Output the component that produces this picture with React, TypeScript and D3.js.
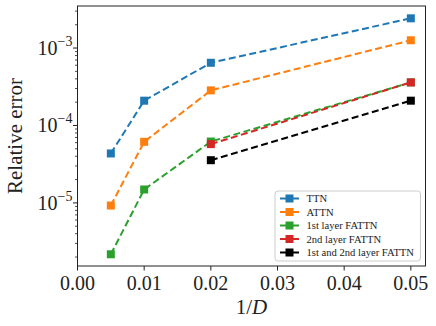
import { useEffect, useRef } from "react";
import * as d3 from "d3";

const xValues = [0.005, 0.01, 0.02, 0.05];
const ttn = [4.35e-5, 2.09e-4, 6.45e-4, 2.42e-3];
const attn = [9.25e-6, 6.15e-5, 2.84e-4, 1.26e-3];
const firstLayer = [2.17e-6, 1.49e-5, 6.2e-5, 3.6e-4];
const secondX = [0.02, 0.05];
const secondLayer = [5.74e-5, 3.6e-4];
const bothLayers = [3.56e-5, 2.09e-4];
const seriesNames = ["TTN", "ATTN", "1st layer FATTN", "2nd layer FATTN", "1st and 2nd layer FATTN"];
const seriesColors = ["#1f77b4", "#ff7f0e", "#2ca02c", "#d62728", "#000000"];
const xTicks = [0, 0.01, 0.02, 0.03, 0.04, 0.05];
const yTickExps = [-5, -4, -3];

const W = 436;
const H = 326;
const FONT = "'Liberation Serif', 'DejaVu Serif', serif";

export default function App() {
  const svgRef = useRef<SVGSVGElement>(null);

  useEffect(() => {
    const svg = d3.select(svgRef.current);
    svg.selectAll("*").remove();

    const margin = { top: 6, right: 10.5, bottom: 60, left: 77.5 };
    const innerW = W - margin.left - margin.right;
    const innerH = H - margin.top - margin.bottom;

    const x = d3.scaleLinear().domain([0, 0.0522]).range([0, innerW]);
    const y = d3.scaleLog().domain([Math.pow(10, -5.815), Math.pow(10, -2.457)]).range([innerH, 0]);

    const g = svg.append("g").attr("transform", `translate(${margin.left},${margin.top})`);

    // series data
    const series = [
      { xs: xValues, ys: ttn },
      { xs: xValues, ys: attn },
      { xs: xValues, ys: firstLayer },
      { xs: secondX, ys: secondLayer },
      { xs: secondX, ys: bothLayers },
    ];

    const line = d3
      .line<[number, number]>()
      .x((d) => x(d[0]))
      .y((d) => y(d[1]));

    const ms = 8;
    series.forEach((s, i) => {
      const pts: [number, number][] = s.xs.map((v, j) => [v, s.ys[j]]);
      g.append("path")
        .attr("d", line(pts))
        .attr("fill", "none")
        .attr("stroke", seriesColors[i])
        .attr("stroke-width", 2)
        .attr("stroke-dasharray", "7,3.5");
      g.selectAll(null)
        .data(pts)
        .enter()
        .append("rect")
        .attr("x", (d) => x(d[0]) - ms / 2)
        .attr("y", (d) => y(d[1]) - ms / 2)
        .attr("width", ms)
        .attr("height", ms)
        .attr("fill", seriesColors[i]);
    });

    // frame
    g.append("rect")
      .attr("width", innerW)
      .attr("height", innerH)
      .attr("fill", "none")
      .attr("stroke", "#222")
      .attr("stroke-width", 1);

    // x ticks
    xTicks.forEach((t) => {
      const px = x(t);
      g.append("line")
        .attr("x1", px)
        .attr("x2", px)
        .attr("y1", innerH)
        .attr("y2", innerH + 4.5)
        .attr("stroke", "#222");
      g.append("text")
        .attr("x", px)
        .attr("y", innerH + 24)
        .attr("text-anchor", "middle")
        .attr("font-family", FONT)
        .attr("font-size", 20)
        .attr("fill", "#222")
        .text(t.toFixed(2));
    });

    // y minor ticks
    const [lo, hi] = y.domain();
    for (let e = -6; e <= -3; e++) {
      for (let m = 2; m <= 9; m++) {
        const v = m * Math.pow(10, e);
        if (v < lo || v > hi) continue;
        g.append("line")
          .attr("x1", 0)
          .attr("x2", -2.5)
          .attr("y1", y(v))
          .attr("y2", y(v))
          .attr("stroke", "#222")
          .attr("stroke-width", 0.8);
      }
    }

    // y major ticks
    yTickExps.forEach((e) => {
      const py = y(Math.pow(10, e));
      g.append("line")
        .attr("x1", 0)
        .attr("x2", -4.5)
        .attr("y1", py)
        .attr("y2", py)
        .attr("stroke", "#222");
      const txt = g
        .append("text")
        .attr("x", -5)
        .attr("y", py + 7)
        .attr("text-anchor", "end")
        .attr("font-family", FONT)
        .attr("font-size", 20)
        .attr("fill", "#222");
      txt.append("tspan").text("10");
      txt.append("tspan").attr("dy", -9).attr("font-size", 14).text(`\u2212${-e}`);
    });

    // axis labels
    svg
      .append("text")
      .attr("transform", `translate(${15},${margin.top + innerH / 2}) rotate(-90)`)
      .attr("text-anchor", "middle")
      .attr("dominant-baseline", "central")
      .attr("font-family", FONT)
      .attr("font-size", 21)
      .attr("fill", "#222")
      .text("Relative error");

    const xl = svg
      .append("text")
      .attr("x", margin.left + innerW / 2)
      .attr("y", 314)
      .attr("text-anchor", "middle")
      .attr("font-family", FONT)
      .attr("font-size", 21)
      .attr("fill", "#222");
    xl.append("tspan").text("1/");
    xl.append("tspan").attr("font-style", "italic").text("D");

    // legend
    const lg = svg.append("g").attr("transform", "translate(275,191)");
    lg.append("rect")
      .attr("width", 145.5)
      .attr("height", 70)
      .attr("rx", 3)
      .attr("fill", "white")
      .attr("fill-opacity", 0.8)
      .attr("stroke", "#cccccc")
      .attr("stroke-width", 1);
    seriesNames.forEach((name, i) => {
      const cy = 7.5 + i * 13.5;
      lg.append("line")
        .attr("x1", 5)
        .attr("x2", 24)
        .attr("y1", cy)
        .attr("y2", cy)
        .attr("stroke", seriesColors[i])
        .attr("stroke-width", 2);
      lg.append("rect")
        .attr("x", 14.5 - ms / 2)
        .attr("y", cy - ms / 2)
        .attr("width", ms)
        .attr("height", ms)
        .attr("fill", seriesColors[i]);
      lg.append("text")
        .attr("x", 31.5)
        .attr("y", cy + 3.5)
        .attr("font-family", FONT)
        .attr("font-size", 10.6)
        .attr("fill", "#222")
        .text(name);
    });
  }, []);

  return (
    <svg
      ref={svgRef}
      width={W}
      height={H}
      style={{ position: "absolute", left: 0, top: 0, background: "white" }}
    />
  );
}
